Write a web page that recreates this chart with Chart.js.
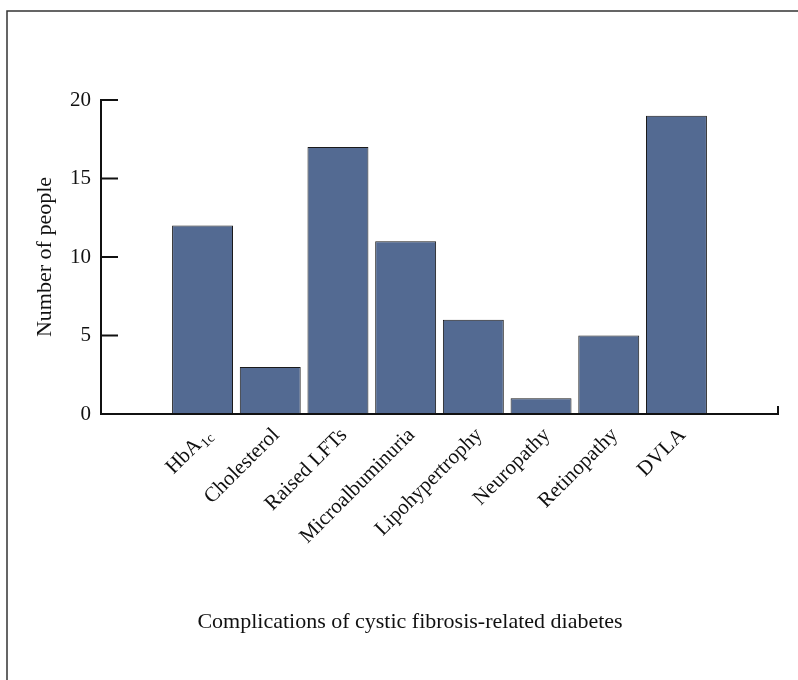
<!DOCTYPE html>
<html>
<head>
<meta charset="utf-8">
<script src="https://cdn.jsdelivr.net/npm/chart.js@4/dist/chart.umd.min.js"></script>
<style>
  html, body { margin: 0; padding: 0; background: #fff; }
  #wrap { width: 798px; height: 680px; }
</style>
</head>
<body>
<div id="wrap"><canvas id="cfrdChart" width="798" height="680"></canvas></div>
<script>
// blank slots at both ends leave the empty space seen in the original
var categories = ['', 'HbA1c', 'Cholesterol', 'Raised LFTs', 'Microalbuminuria', 'Lipohypertrophy', 'Neuropathy', 'Retinopathy', 'DVLA', ''];
var people = [null, 12, 3, 17, 11, 6, 1, 5, 19, null];
var yTicks = [0, 5, 10, 15, 20];

var serif = '"Liberation Serif", "DejaVu Serif", serif';
var ink = '#111';

// axes, inward ticks, rotated labels (with subscript) and the frame
var axisPlugin = {
    id: 'axisPlugin',
    afterDatasetsDraw: function(chart) {
        var ctx = chart.ctx;
        var area = chart.chartArea;
        var x = chart.scales.x, y = chart.scales.y;
        ctx.save();

        // frame round the figure
        ctx.strokeStyle = '#333';
        ctx.lineWidth = 1.5;
        ctx.beginPath();
        ctx.moveTo(7, chart.height);
        ctx.lineTo(7, 11);
        ctx.lineTo(chart.width, 11);
        ctx.stroke();

        // axis lines
        ctx.strokeStyle = ink;
        ctx.lineWidth = 2;
        ctx.beginPath();
        ctx.moveTo(area.left, area.top - 1);
        ctx.lineTo(area.left, area.bottom);
        ctx.lineTo(area.right, area.bottom);
        ctx.lineTo(area.right, area.bottom - 8);
        ctx.stroke();

        // inward y ticks
        yTicks.forEach(function(v) {
            var py = y.getPixelForValue(v);
            ctx.beginPath();
            ctx.moveTo(area.left, py);
            ctx.lineTo(area.left + 17, py);
            ctx.stroke();
        });

        // rotated category labels
        ctx.fillStyle = ink;
        ctx.textBaseline = 'middle';
        ctx.textAlign = 'right';
        categories.forEach(function(lab, i) {
            if (!lab) return;
            var px = x.getPixelForValue(i);
            ctx.save();
            ctx.translate(px + 6, area.bottom + 18);
            ctx.rotate(-Math.PI / 4);
            if (lab === 'HbA1c') {
                ctx.font = '14px ' + serif;
                var sub = '1c';
                var w = ctx.measureText(sub).width;
                ctx.fillText(sub, 0, 6);
                ctx.font = '21px ' + serif;
                ctx.fillText('HbA', -w - 1, 0);
            } else {
                ctx.font = '21px ' + serif;
                ctx.fillText(lab, 0, 0);
            }
            ctx.restore();
        });

        // x axis title
        ctx.font = '22px ' + serif;
        ctx.textAlign = 'center';
        ctx.fillText('Complications of cystic fibrosis-related diabetes', 410, 622);
        ctx.restore();
    }
};

var ctxBar = document.getElementById('cfrdChart').getContext('2d');
var cfrdChart = new Chart(ctxBar, {
    type: 'bar',
    data: {
        labels: categories,
        datasets: [{
            label: 'Number of people',
            data: people,
            backgroundColor: '#536a92',
            borderColor: '#1a1a1a',
            borderWidth: 1,
            categoryPercentage: 1.0,
            barPercentage: 0.9
        }]
    },
    options: {
        responsive: false,
        animation: false,
        layout: {
            padding: { left: 0, right: 20, top: 100, bottom: 0 }
        },
        scales: {
            x: {
                grid: { display: false },
                border: { display: false },
                ticks: { display: false },
                afterFit: function(s) { s.height = 266; }
            },
            y: {
                min: 0,
                max: 20,
                grid: { display: false, drawTicks: false },
                border: { display: false },
                ticks: {
                    stepSize: 5,
                    padding: 10,
                    color: ink,
                    font: { family: serif, size: 21 }
                },
                title: {
                    display: true,
                    text: 'Number of people',
                    color: ink,
                    font: { family: serif, size: 22 },
                    padding: { top: 32, bottom: 0 }
                },
                afterFit: function(s) { s.width = 101; }
            }
        },
        plugins: {
            legend: { display: false },
            title: { display: false },
            tooltip: { enabled: false }
        }
    },
    plugins: [axisPlugin]
});
</script>
</body>
</html>
